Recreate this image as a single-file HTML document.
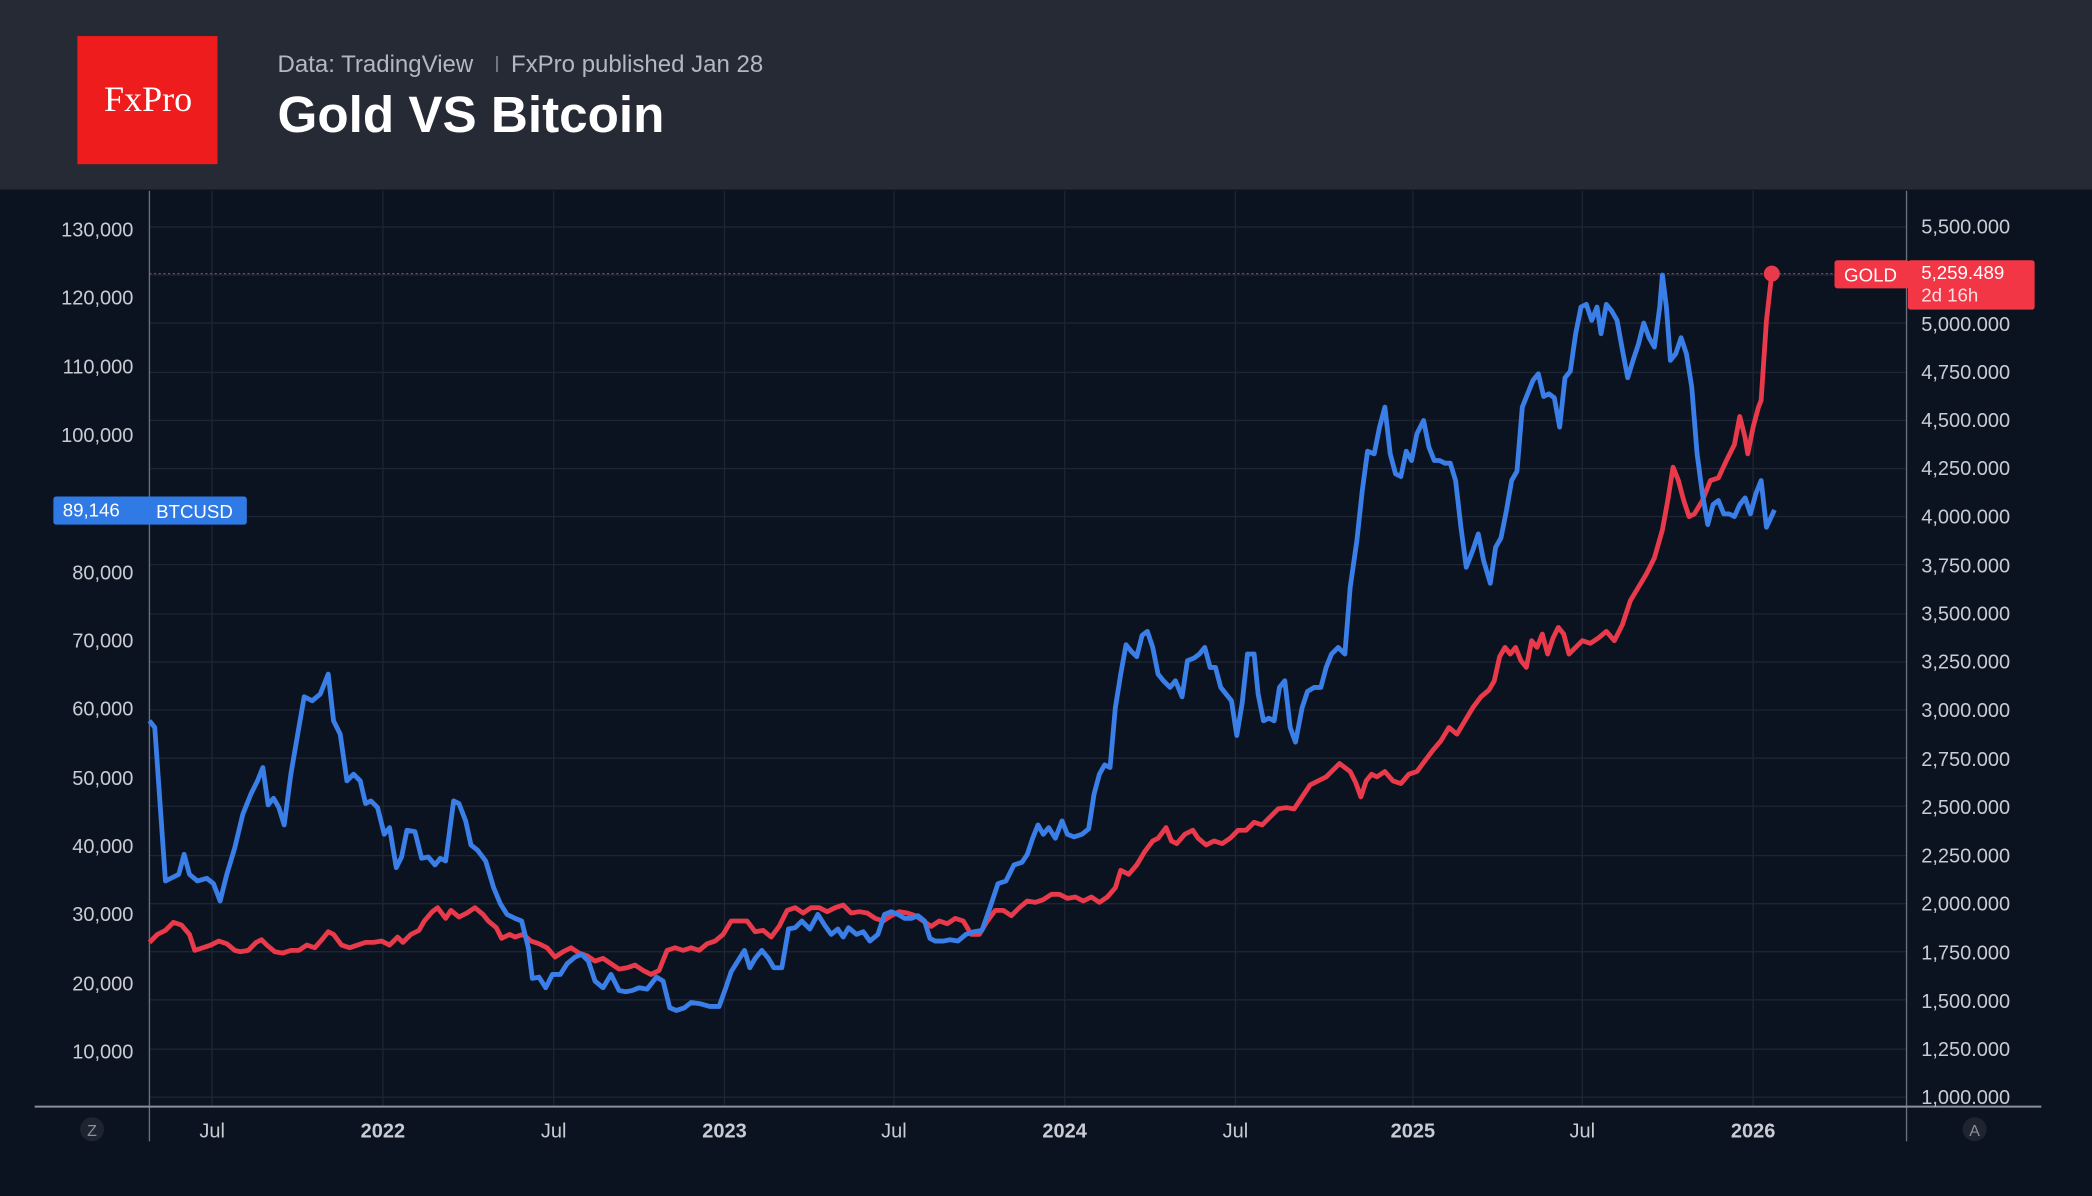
<!DOCTYPE html>
<html><head><meta charset="utf-8"><style>
html,body{margin:0;padding:0;background:#0c1320;}
svg{display:block}
</style></head><body>
<svg width="2092" height="1196" viewBox="0 0 1568 896" preserveAspectRatio="none" xmlns="http://www.w3.org/2000/svg" font-family="Liberation Sans, sans-serif">
<rect x="0" y="0" width="1568" height="896" fill="#0c1320"/>
<rect x="0" y="0" width="1568" height="142" fill="#262a35"/>
<rect x="58" y="27" width="105" height="96" fill="#ee1c1c"/>
<text x="111" y="83" text-anchor="middle" font-family="Liberation Serif, serif" font-size="27" fill="#fff">FxPro</text>
<text x="208" y="54" font-size="18" fill="#b4b7bf">Data: TradingView</text>
<rect x="372" y="42" width="1" height="12" fill="#9a9ca3"/>
<text x="383" y="54" font-size="18" fill="#b4b7bf">FxPro published Jan 28</text>
<text x="208" y="99" font-size="38" font-weight="bold" fill="#ffffff" textLength="290" lengthAdjust="spacingAndGlyphs">Gold VS Bitcoin</text>
<g stroke="#1d2533" stroke-width="1">
<line x1="159" y1="143" x2="159" y2="829"/><line x1="287" y1="143" x2="287" y2="829"/><line x1="415" y1="143" x2="415" y2="829"/><line x1="543" y1="143" x2="543" y2="829"/><line x1="670" y1="143" x2="670" y2="829"/><line x1="798" y1="143" x2="798" y2="829"/><line x1="926" y1="143" x2="926" y2="829"/><line x1="1059" y1="143" x2="1059" y2="829"/><line x1="1186" y1="143" x2="1186" y2="829"/><line x1="1314" y1="143" x2="1314" y2="829"/>
<line x1="112" y1="170" x2="1429" y2="170"/><line x1="112" y1="206" x2="1429" y2="206"/><line x1="112" y1="242" x2="1429" y2="242"/><line x1="112" y1="279" x2="1429" y2="279"/><line x1="112" y1="315" x2="1429" y2="315"/><line x1="112" y1="351" x2="1429" y2="351"/><line x1="112" y1="387" x2="1429" y2="387"/><line x1="112" y1="423" x2="1429" y2="423"/><line x1="112" y1="460" x2="1429" y2="460"/><line x1="112" y1="496" x2="1429" y2="496"/><line x1="112" y1="532" x2="1429" y2="532"/><line x1="112" y1="568" x2="1429" y2="568"/><line x1="112" y1="604" x2="1429" y2="604"/><line x1="112" y1="641" x2="1429" y2="641"/><line x1="112" y1="677" x2="1429" y2="677"/><line x1="112" y1="713" x2="1429" y2="713"/><line x1="112" y1="749" x2="1429" y2="749"/><line x1="112" y1="786" x2="1429" y2="786"/><line x1="112" y1="822" x2="1429" y2="822"/>
</g>
<line x1="112" y1="143" x2="112" y2="855" stroke="#6b7080" stroke-width="1"/>
<line x1="1429" y1="143" x2="1429" y2="855" stroke="#6b7080" stroke-width="1"/>
<line x1="26" y1="829" x2="1530" y2="829" stroke="#8a8f99" stroke-width="1.5"/>
<g font-size="15" fill="#c9ccd3" text-anchor="end">
<text x="100" y="177">130,000</text><text x="100" y="228">120,000</text><text x="100" y="280">110,000</text><text x="100" y="331">100,000</text><text x="100" y="434">80,000</text><text x="100" y="485">70,000</text><text x="100" y="536">60,000</text><text x="100" y="588">50,000</text><text x="100" y="639">40,000</text><text x="100" y="690">30,000</text><text x="100" y="742">20,000</text><text x="100" y="793">10,000</text>
</g>
<g font-size="15" fill="#c9ccd3" text-anchor="start">
<text x="1440" y="175">5,500.000</text><text x="1440" y="248">5,000.000</text><text x="1440" y="284">4,750.000</text><text x="1440" y="320">4,500.000</text><text x="1440" y="356">4,250.000</text><text x="1440" y="392">4,000.000</text><text x="1440" y="429">3,750.000</text><text x="1440" y="465">3,500.000</text><text x="1440" y="501">3,250.000</text><text x="1440" y="537">3,000.000</text><text x="1440" y="574">2,750.000</text><text x="1440" y="610">2,500.000</text><text x="1440" y="646">2,250.000</text><text x="1440" y="682">2,000.000</text><text x="1440" y="719">1,750.000</text><text x="1440" y="755">1,500.000</text><text x="1440" y="791">1,250.000</text><text x="1440" y="827">1,000.000</text>
</g>
<g font-size="15" fill="#c9ccd3" text-anchor="middle">
<text x="159" y="852">Jul</text><text x="287" y="852" font-weight="bold">2022</text><text x="415" y="852">Jul</text><text x="543" y="852" font-weight="bold">2023</text><text x="670" y="852">Jul</text><text x="798" y="852" font-weight="bold">2024</text><text x="926" y="852">Jul</text><text x="1059" y="852" font-weight="bold">2025</text><text x="1186" y="852">Jul</text><text x="1314" y="852" font-weight="bold">2026</text>
</g>
<circle cx="69" cy="846" r="9" fill="#1e2430"/><text x="69" y="851" font-size="12" fill="#8a8f99" text-anchor="middle">Z</text>
<circle cx="1480" cy="846" r="9" fill="#1e2430"/><text x="1480" y="851" font-size="12" fill="#8a8f99" text-anchor="middle">A</text>
<line x1="112" y1="205" x2="1375" y2="205" stroke="#e0404f" stroke-width="1" stroke-dasharray="1.5,2" opacity="0.8"/>
<polyline fill="none" stroke="#e83a4b" stroke-width="3.6" stroke-linejoin="round" points="112,706 118,700 124,697 130,691 136,693 142,700 146,712 152,710 158,708 164,705 170,707 176,712 180,713 186,712 192,706 196,704 200,708 206,713 212,714 218,712 224,712 230,708 236,710 242,703 246,698 250,700 256,708 262,710 268,708 274,706 280,706 286,705 292,708 298,702 302,706 308,700 314,697 318,690 324,683 328,680 334,688 338,682 344,687 350,684 356,680 362,685 366,690 372,695 376,703 382,700 386,702 392,700 398,705 404,707 410,710 416,717 422,713 428,710 434,714 440,716 446,720 452,718 458,722 464,726 470,725 476,723 482,727 488,730 494,727 500,712 506,710 512,712 518,710 524,712 530,707 536,705 542,700 548,690 554,690 560,690 566,698 572,697 578,702 584,694 590,682 596,680 602,684 608,680 614,680 620,683 626,680 632,678 638,684 644,683 650,684 656,688 662,690 668,686 674,683 680,684 686,686 692,690 698,694 704,690 710,692 716,688 722,690 728,700 734,700 740,690 746,682 752,682 758,686 764,680 770,675 776,676 782,674 788,670 794,670 800,673 806,672 812,675 818,672 824,676 830,672 836,665 840,652 846,655 852,648 858,638 864,630 868,628 874,620 878,630 882,632 888,625 894,622 898,628 904,633 910,630 916,632 922,628 928,622 934,622 940,616 946,618 952,612 958,606 964,605 970,606 976,597 982,588 988,585 994,582 998,578 1004,572 1008,575 1012,578 1016,586 1020,597 1024,585 1028,580 1032,582 1038,578 1044,585 1050,587 1056,580 1062,578 1068,570 1074,562 1080,555 1086,545 1092,550 1098,540 1104,530 1110,522 1116,517 1120,510 1124,492 1128,485 1132,490 1136,485 1140,495 1144,500 1148,480 1152,485 1156,475 1160,490 1164,478 1168,470 1172,475 1176,490 1180,486 1186,480 1192,482 1198,478 1204,473 1210,480 1216,468 1222,450 1228,440 1234,430 1240,418 1246,397 1250,375 1254,350 1258,360 1262,375 1266,387 1270,385 1276,375 1282,360 1288,358 1294,345 1300,333 1304,312 1308,328 1310,340 1314,320 1318,305 1320,300 1324,240 1328,205"/>
<polyline fill="none" stroke="#3a7ee8" stroke-width="3.6" stroke-linejoin="round" points="112,540 116,545 124,660 130,657 134,655 138,640 142,655 148,660 155,658 160,662 165,675 170,655 176,635 182,610 188,595 193,585 197,575 201,603 205,598 209,605 213,618 218,580 224,545 228,522 234,525 240,520 246,505 250,540 255,550 260,585 265,580 270,585 274,602 278,600 283,605 288,625 292,620 297,650 301,642 305,622 311,623 316,643 321,642 326,648 330,643 334,645 340,600 344,602 349,615 353,633 358,637 364,645 370,665 375,677 380,685 386,688 391,690 396,710 399,733 404,732 409,740 414,730 420,730 425,722 431,717 436,715 441,720 446,735 452,740 458,730 464,742 469,743 474,742 479,740 485,741 492,732 497,735 502,755 507,757 513,755 518,751 525,752 532,754 539,754 544,740 548,728 553,720 558,712 562,725 566,718 571,712 576,718 580,725 586,725 591,696 596,695 601,690 607,696 613,685 618,693 623,700 628,696 632,702 636,695 642,700 647,698 652,705 658,700 663,685 668,683 673,685 678,688 683,688 688,686 693,690 697,703 701,705 707,705 712,704 718,705 724,700 730,698 736,697 742,680 748,662 754,660 760,648 766,646 770,640 774,628 778,618 782,625 786,620 791,628 796,615 800,625 805,627 811,625 816,621 820,595 824,580 828,573 832,575 836,530 840,505 844,483 848,488 852,492 856,476 860,473 864,485 868,505 872,510 877,515 881,510 886,522 890,495 895,493 899,490 903,485 907,500 911,500 915,515 919,520 923,525 927,551 931,527 935,490 940,490 943,520 947,540 951,538 955,540 959,515 963,510 967,545 971,556 976,530 980,518 985,515 990,515 994,500 998,490 1003,485 1008,490 1012,440 1017,405 1021,368 1025,338 1030,340 1034,320 1038,305 1042,340 1046,355 1050,357 1054,338 1058,345 1062,325 1067,315 1071,335 1075,345 1079,345 1083,347 1087,347 1091,360 1095,395 1099,425 1104,412 1108,400 1112,420 1117,437 1121,410 1125,403 1129,383 1133,360 1137,353 1141,305 1145,295 1149,285 1153,280 1157,297 1161,295 1165,298 1169,320 1173,283 1177,278 1181,250 1185,230 1189,228 1193,240 1197,230 1200,250 1204,228 1208,233 1212,240 1216,262 1220,283 1224,270 1228,258 1232,242 1236,253 1240,260 1244,230 1246,206 1249,230 1252,270 1256,265 1260,253 1264,265 1268,290 1272,340 1276,370 1280,393 1284,378 1288,375 1292,385 1296,385 1300,387 1304,378 1308,373 1312,385 1316,370 1320,360 1324,395 1330,382"/>
<circle cx="1328" cy="205" r="6" fill="#e83a4b"/>
<rect x="1375" y="195" width="56" height="21" rx="2" fill="#f23645"/>
<text x="1402" y="211" font-size="14" fill="#fff" text-anchor="middle">GOLD</text>
<rect x="1430" y="195" width="95" height="37" rx="2" fill="#f23645"/>
<text x="1440" y="209" font-size="14" fill="#fff">5,259.489</text>
<text x="1440" y="226" font-size="14" fill="#fde0e3">2d 16h</text>
<rect x="40" y="372" width="145" height="21" rx="2" fill="#2f7ae5"/>
<text x="47" y="387" font-size="14" fill="#fff">89,146</text>
<text x="117" y="388" font-size="14" fill="#fff">BTCUSD</text>
</svg>
</body></html>
